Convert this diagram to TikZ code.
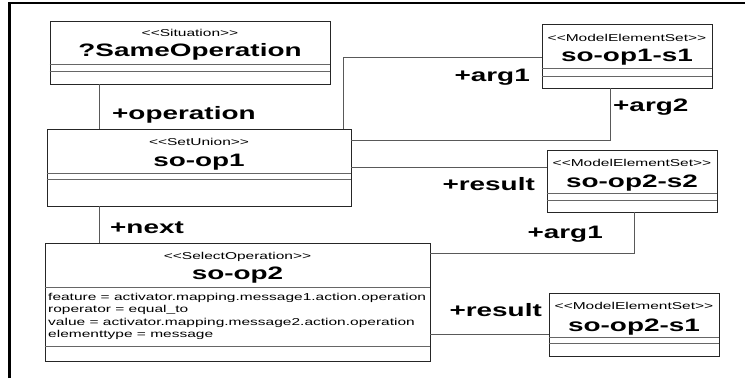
\documentclass[tikz,border=0pt]{standalone}
\usepackage{fontspec}
\newfontfamily\umlfont{Liberation Sans}[FakeStretch=1.55]
\begin{document}
\begin{tikzpicture}[x=1pt,y=-1pt,
  umlbox/.style={draw=black!85, line width=0.9pt, fill=white, rectangle, inner sep=0pt},
  sepline/.style={draw=black!60, line width=0.8pt},
  assoc/.style={draw=black!65, line width=0.8pt},
  stereo/.style={anchor=base, inner sep=0pt, font=\umlfont\fontsize{10}{12}\selectfont},
  clsname/.style={anchor=base, inner sep=0pt, font=\umlfont\fontsize{18}{20}\selectfont\bfseries},
  attr/.style={anchor=base west, inner sep=0pt, font=\umlfont\fontsize{10}{12}\selectfont},
  role/.style={inner sep=0pt, font=\umlfont\fontsize{18}{20}\selectfont\bfseries}]
\useasboundingbox (0,0) rectangle (745,378);

% frame edges
\draw[line width=2.6pt] (9.7,378) -- (9.7,2.9) -- (745,2.9);

% class boxes
\node[umlbox, minimum width=280, minimum height=63] (A) at (190,52.5) {};
\node[umlbox, minimum width=304, minimum height=77] (B) at (199,167.5) {};
\node[umlbox, minimum width=385, minimum height=118] (C) at (237.5,302) {};
\node[umlbox, minimum width=170, minimum height=64] (D) at (627,56) {};
\node[umlbox, minimum width=170, minimum height=62] (E) at (632,181) {};
\node[umlbox, minimum width=170, minimum height=63] (F) at (634,324.5) {};

% compartments
\draw[sepline] (A.west |- 0,64) -- (A.east |- 0,64);
\draw[sepline] (A.west |- 0,71) -- (A.east |- 0,71);
\draw[sepline] (B.west |- 0,173) -- (B.east |- 0,173);
\draw[sepline] (B.west |- 0,179) -- (B.east |- 0,179);
\draw[sepline] (C.west |- 0,287) -- (C.east |- 0,287);
\draw[sepline] (C.west |- 0,346) -- (C.east |- 0,346);
\draw[sepline] (D.west |- 0,68) -- (D.east |- 0,68);
\draw[sepline] (D.west |- 0,76) -- (D.east |- 0,76);
\draw[sepline] (E.west |- 0,193) -- (E.east |- 0,193);
\draw[sepline] (E.west |- 0,200) -- (E.east |- 0,200);
\draw[sepline] (F.west |- 0,337) -- (F.east |- 0,337);
\draw[sepline] (F.west |- 0,343) -- (F.east |- 0,343);

% class headers
\node[stereo] (Ast) at (190,36.5) {<{}<Situation>{}>};
\node[clsname] (Anm) at (190,56) {?SameOperation};
\node[stereo] (Bst) at (199,145) {<{}<SetUnion>{}>};
\node[clsname] (Bnm) at (199,166) {so-op1};
\node[stereo] (Cst) at (237.5,259) {<{}<SelectOperation>{}>};
\node[clsname] (Cnm) at (237.5,279) {so-op2};
\node[stereo] (Dst) at (627,41) {<{}<ModelElementSet>{}>};
\node[clsname] (Dnm) at (627,61) {so-op1-s1};
\node[stereo] (Est) at (632,166.5) {<{}<ModelElementSet>{}>};
\node[clsname] (Enm) at (632,187.5) {so-op2-s2};
\node[stereo] (Fst) at (634,309.5) {<{}<ModelElementSet>{}>};
\node[clsname] (Fnm) at (634,331) {so-op2-s1};

% attributes of so-op2
\node[attr] (Ca1) at (48,300) {feature = activator.mapping.message1.action.operation};
\node[attr] (Ca2) at (48,312.6) {roperator = equal\_to};
\node[attr] (Ca3) at (48,325.2) {value = activator.mapping.message2.action.operation};
\node[attr] (Ca4) at (48,337.8) {elementtype = message};

% connector columns and rows
\coordinate (k1) at (99,0);
\coordinate (k2) at (343,0);
\coordinate (k3) at (610,0);
\coordinate (k4) at (634,0);

% associations
\draw[assoc] (A.south -| k1) -- (B.north -| k1);
\draw[assoc] (B.south -| k1) -- (C.north -| k1);
\draw[assoc] (B.north -| k2) |- (D.west |- 0,57);
\draw[assoc] (B.east |- 0,140) -| (D.south -| k3);
\draw[assoc] (B.east |- 0,167) -- (E.west |- 0,167);
\draw[assoc] (C.east |- 0,253) -| (E.south -| k4);
\draw[assoc] (C.east |- 0,334) -- (F.west |- 0,334);

% role names
\node[role, anchor=base west] (r1) at (112,119.5) {+operation};
\node[role, anchor=base west] (r2) at (110,233) {+next};
\node[role, anchor=base east] (r3) at (530,81) {+arg1};
\node[role, anchor=base west] (r4) at (613,111) {+arg2};
\node[role, anchor=base east] (r5) at (535,190) {+result};
\node[role, anchor=base east] (r6) at (603,238) {+arg1};
\node[role, anchor=base east] (r7) at (542,316.5) {+result};
\end{tikzpicture}
\end{document}
